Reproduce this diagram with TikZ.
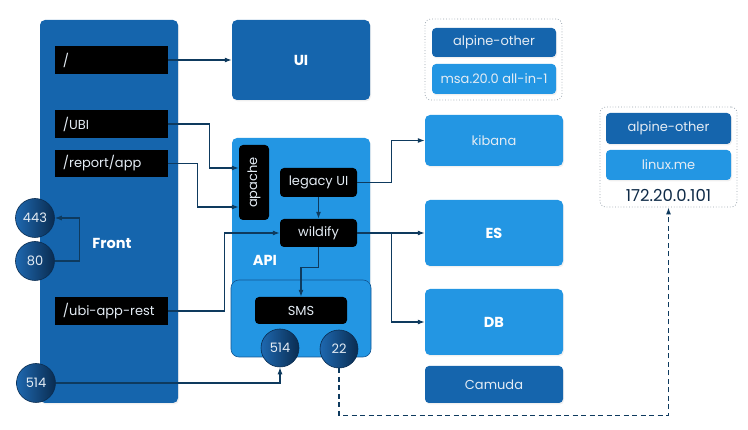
\documentclass[tikz,border=0pt]{standalone}
\usepackage{fontspec}
\usepackage{graphicx}
\setmainfont{Poppins}
\usetikzlibrary{arrows.meta,shadows}
\definecolor{dblue}{HTML}{1565AD}
\definecolor{lblue}{HTML}{2396E3}
\definecolor{navy}{HTML}{0E3A5E}
\definecolor{txt}{HTML}{E4ECF4}
\definecolor{cdark}{HTML}{0A2C50}
\definecolor{clight}{HTML}{1E68B0}
\definecolor{grpc}{HTML}{9AA4AE}
\definecolor{ipc}{HTML}{0E2A47}
\begin{document}
\begin{tikzpicture}[x=1pt,y=-1pt,
  shad/.style={drop shadow={opacity=0.12,shadow xshift=1pt,shadow yshift=-1.5pt}},
  box/.style={rounded corners=5pt, inner sep=0pt, shad},
  dbox/.style={box, fill=dblue},
  lbox/.style={box, fill=lblue},
  bold/.style={text=white, font=\bfseries\fontsize{14.5}{16}\selectfont},
  thin/.style={text=txt, font=\fontsize{13}{15}\selectfont},
  route/.style={fill=black, inner ysep=0pt, inner xsep=8pt, text width=97pt, align=left, minimum height=28pt, thin},
  blk/.style={fill=black, rounded corners=4pt, inner sep=0pt, thin},
  port/.style={circle, minimum size=39pt, inner sep=0pt, left color=clight, right color=cdark, draw=cdark, line width=0.6pt, thin},
  grp/.style={draw=grpc, dotted, rounded corners=6pt, line width=0.8pt, inner sep=0pt},
  arr/.style={draw=navy, line width=1.1pt, -{Latex[length=7pt,width=5pt]}}
]
\useasboundingbox (0,0) rectangle (748,430);

% main containers
\node[dbox, minimum width=138pt, minimum height=383pt] (front) at (109,211.5) {};
\node[dbox, minimum width=138pt, minimum height=80pt, bold] (ui) at (301,60) {UI};
\node[lbox, minimum width=138pt, minimum height=206pt] (api) at (301,241) {};
\node[fill=lblue, draw=dblue!85!black, line width=0.6pt, rounded corners=8pt, minimum width=140pt, minimum height=77pt, inner sep=0pt] (smsbox) at (301,318.5) {};

% labels
\node[bold] (frontlbl) at (112,243) {Front};
\node[bold] (apilbl) at (265,260) {API};

% routes
\node[route] (root) at (111.5,60) {/};
\node[route] (ubi) at (111.5,124) {/UBI};
\node[route, minimum height=27pt] (report) at (111.5,163.5) {/report/app};
\node[route] (rest) at (111.5,311) {/ubi-app-rest};

% ports
\node[port] (p443) at (35,218) {443};
\node[port] (p80) at (35,261) {80};
\node[port] (p514a) at (36,383) {514};

% API internals
\node[blk, minimum width=30pt, minimum height=75pt] (apache) at (254,182.5) {\rotatebox{90}{apache}};
\node[blk, minimum width=77pt, minimum height=29pt] (legacy) at (318.5,182.5) {legacy UI};
\node[blk, minimum width=77pt, minimum height=28pt] (wildify) at (318.5,233) {wildify};
\node[blk, minimum width=92pt, minimum height=27pt] (sms) at (301,310.5) {SMS};
\node[port, minimum size=38pt] (p514b) at (280,348) {514};
\node[port, minimum size=38pt] (p22) at (339,349) {22};

% right column
\node[grp, minimum width=137pt, minimum height=81pt] (grp1) at (493.5,59.5) {};
\node[dbox, rounded corners=4pt, minimum width=124pt, minimum height=29pt, thin] (alp1) at (494,42.5) {alpine-other};
\node[lbox, rounded corners=4pt, minimum width=124pt, minimum height=30pt, thin] (msa) at (494,79) {msa.20.0 all-in-1};
\node[lbox, minimum width=138pt, minimum height=51pt, thin] (kibana) at (494,140.5) {kibana};
\node[lbox, minimum width=138pt, minimum height=66pt, bold] (es) at (494,233) {ES};
\node[lbox, minimum width=138pt, minimum height=66pt, bold] (db) at (494,322) {DB};
\node[dbox, rounded corners=4pt, minimum width=138pt, minimum height=37pt, thin] (camuda) at (494,384.5) {Camuda};

\node[grp, minimum width=137pt, minimum height=100pt] (grp2) at (668.5,157) {};
\node[dbox, rounded corners=4pt, minimum width=125pt, minimum height=31pt, thin] (alp2) at (668.5,128.5) {alpine-other};
\node[lbox, rounded corners=4pt, minimum width=125pt, minimum height=30pt, thin] (linux) at (668.5,165) {linux.me};
\node[text=ipc, font=\fontsize{16.5}{18}\selectfont, inner sep=0pt] (ip) at (668.5,195) {172.20.0.101};

% connectors
\draw[arr] (root.east) -- (ui.west);
\draw[arr] (ubi.east) -- ++(41,0) |- ([yshift=14.5pt]apache.west);
\draw[arr] (report.east) -- ++(29,0) |- ([yshift=-24.5pt]apache.west);
\draw[arr] (rest.east) -- ++(56,0) |- (wildify.west);
\draw[arr] (legacy.south) -- (wildify.north);
\draw[arr] (legacy.east) -- ++(34,0) |- (kibana.west);
\draw[arr] (wildify.east) -- (es.west);
\draw[arr] (wildify.east) -- ++(34,0) |- (db.west);
\draw[arr] (wildify.south) -- ++(0,20.5) -| (sms.north);
\draw[arr] (p80.east) -- ++(25,0) |- (p443.east);
\draw[arr] (p514a.east) -| (p514b.south);
\draw[arr, line width=1.2pt, dash pattern=on 5pt off 3.5pt] (p22.south) -- ++(0,47) -| (grp2.south);
\end{tikzpicture}
\end{document}
